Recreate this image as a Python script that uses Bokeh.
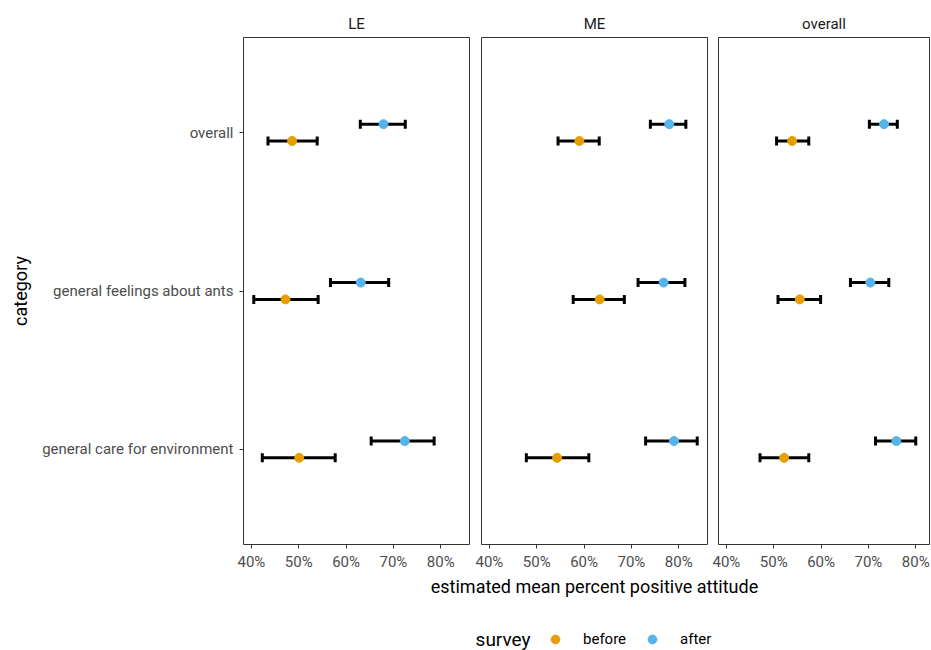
from bokeh.plotting import figure
from bokeh.models import (ColumnDataSource, FactorRange, Range1d, Whisker, TeeHead,
                          FixedTicker, PrintfTickFormatter, Legend, LegendItem, Label)
from bokeh.transform import dodge
from bokeh.layouts import row, column
from bokeh.embed import file_html
from bokeh.resources import INLINE

# ---------------- data ----------------
categories = ["general care for environment", "general feelings about ants", "overall"]
panels = ["LE", "ME", "overall"]
surveys = ["before", "after"]
x_ticks = [40, 50, 60, 70, 80]

# LE
le_before_mean = [50.1, 47.2, 48.6]
le_before_lo = [42.3, 40.5, 43.5]
le_before_hi = [57.7, 54.1, 53.9]
le_after_mean = [72.4, 63.1, 67.9]
le_after_lo = [65.3, 56.7, 63.0]
le_after_hi = [78.6, 69.0, 72.5]
# ME
me_before_mean = [54.3, 63.3, 59.0]
me_before_lo = [47.8, 57.7, 54.5]
me_before_hi = [61.0, 68.5, 63.2]
me_after_mean = [79.0, 76.8, 78.0]
me_after_lo = [73.0, 71.4, 74.0]
me_after_hi = [83.9, 81.3, 81.5]
# overall
ov_before_mean = [52.2, 55.5, 53.9]
ov_before_lo = [47.1, 50.9, 50.6]
ov_before_hi = [57.4, 59.9, 57.4]
ov_after_mean = [75.9, 70.4, 73.3]
ov_after_lo = [71.5, 66.2, 70.2]
ov_after_hi = [80.0, 74.3, 76.1]

panel_data = {
    "LE": {"before": (le_before_mean, le_before_lo, le_before_hi),
           "after": (le_after_mean, le_after_lo, le_after_hi)},
    "ME": {"before": (me_before_mean, me_before_lo, me_before_hi),
           "after": (me_after_mean, me_after_lo, me_after_hi)},
    "overall": {"before": (ov_before_mean, ov_before_lo, ov_before_hi),
                "after": (ov_after_mean, ov_after_lo, ov_after_hi)},
}

# ---------------- style ----------------
COLORS = {"before": "#E69F00", "after": "#56B4E9"}
DODGE = {"before": -0.053, "after": 0.053}
FONT = "Roboto"
TOTAL_W = 931
TOTAL_H = 650
FRAME_W = 226
FRAME_H = 507
TOP = 37
BOTTOM = 26
LEFT1 = 243

all_lo = min(min(v[s][1]) for v in panel_data.values() for s in surveys)
all_hi = max(max(v[s][2]) for v in panel_data.values() for s in surveys)
span = all_hi - all_lo
X0 = all_lo - 0.05 * span
X1 = all_hi + 0.05 * span
px_per_unit = FRAME_W / (X1 - X0)

y_range = FactorRange(factors=categories, range_padding=0.2 / 3, range_padding_units="percent")


def make_panel(name, frame_w, x_end, left, right, first):
    p = figure(y_range=y_range, x_range=Range1d(X0, x_end),
               frame_width=frame_w, frame_height=FRAME_H,
               min_border_left=left, min_border_right=right,
               min_border_top=TOP, min_border_bottom=BOTTOM,
               output_backend="svg", toolbar_location=None, title=name)
    p.background_fill_color = "white"
    p.border_fill_color = "white"
    p.outline_line_color = "#333333"
    p.outline_line_width = 1
    p.xgrid.visible = False
    p.ygrid.visible = False

    p.title.align = "center"
    p.title.text_font = FONT
    p.title.text_font_size = "15px"
    p.title.text_font_style = "normal"
    p.title.text_color = "#1A1A1A"
    p.title.standoff = 10

    ax = p.xaxis[0]
    ax.ticker = FixedTicker(ticks=x_ticks)
    ax.formatter = PrintfTickFormatter(format="%d%%")
    ax.axis_line_color = None
    ax.major_tick_line_color = "#333333"
    ax.major_tick_in = 0
    ax.major_tick_out = 4
    ax.minor_tick_line_color = None
    ax.major_label_text_font = FONT
    ax.major_label_text_font_size = "15px"
    ax.major_label_text_color = "#4D4D4D"
    ax.major_label_standoff = 4

    ay = p.yaxis[0]
    if first:
        ay.axis_line_color = None
        ay.major_tick_line_color = "#333333"
        ay.major_tick_in = 0
        ay.major_tick_out = 4
        ay.major_label_text_font = FONT
        ay.major_label_text_font_size = "15px"
        ay.major_label_text_color = "#4D4D4D"
        ay.major_label_standoff = 6
        ay.axis_label = "category"
        ay.axis_label_text_font = FONT
        ay.axis_label_text_font_size = "18px"
        ay.axis_label_text_font_style = "normal"
        ay.axis_label_text_color = "black"
        ay.axis_label_standoff = 8
    else:
        ay.visible = False

    for s in surveys:
        mean, lo, hi = panel_data[name][s]
        src = ColumnDataSource(dict(cat=categories, mean=mean, lo=lo, hi=hi))
        ybase = dodge("cat", DODGE[s], range=y_range)
        w = Whisker(source=src, base=ybase, lower="lo", upper="hi", dimension="width",
                    line_color="black", line_width=3, level="underlay",
                    lower_head=TeeHead(size=9, line_width=3, line_color="black"),
                    upper_head=TeeHead(size=9, line_width=3, line_color="black"))
        p.add_layout(w)
        p.scatter("mean", ybase, source=src, size=9,
                  fill_color=COLORS[s], line_color=COLORS[s])
    return p


p1 = make_panel(panels[0], FRAME_W, X1, LEFT1, 4, True)
p2 = make_panel(panels[1], FRAME_W, X1, 8, 3, False)
used = (LEFT1 + FRAME_W + 4) + (8 + FRAME_W + 3) + 8
RIGHT3 = 2
w3 = TOTAL_W - used - RIGHT3
p3 = make_panel(panels[2], w3, X0 + w3 / px_per_unit, 8, RIGHT3, False)

# footer: shared x-axis title and legend, centred under the middle panel
row_h = TOP + FRAME_H + BOTTOM
p2_center = LEFT1 + FRAME_W + 4 + 8 + FRAME_W / 2
FOOT_FW = 266
foot_left = int(round(p2_center - FOOT_FW / 2))
foot = figure(width=TOTAL_W, height=TOTAL_H - row_h,
              min_border_left=foot_left, min_border_right=TOTAL_W - foot_left - FOOT_FW,
              min_border_top=10, min_border_bottom=0,
              x_range=Range1d(0, FOOT_FW), y_range=Range1d(0, 1),
              x_axis_location=None, y_axis_location=None,
              output_backend="svg", toolbar_location=None,
              title="estimated mean percent positive attitude")
foot.outline_line_color = None
foot.grid.visible = False
foot.background_fill_color = "white"
foot.border_fill_color = "white"
foot.title.align = "center"
foot.title.text_font = FONT
foot.title.text_font_size = "18px"
foot.title.text_font_style = "normal"
foot.title.text_color = "black"
foot.title.text_line_height = 0.9
foot.title.standoff = 0

# hidden proxy renderers that only supply the legend swatches
leg_r = {s: foot.scatter(x=[0], y=[0], size=9, fill_color=COLORS[s], line_color=COLORS[s],
                         visible=False)
         for s in surveys}
LEG_X = 83
LEG_Y = 3
legend = Legend(items=[LegendItem(label=s, renderers=[leg_r[s]]) for s in surveys],
                orientation="horizontal", location=(LEG_X, LEG_Y))
legend.label_text_font = FONT
legend.label_text_font_size = "15px"
legend.label_text_color = "black"
legend.label_standoff = 17
legend.glyph_width = 22
legend.glyph_height = 22
legend.spacing = 15
legend.border_line_color = None
legend.background_fill_alpha = 0
legend.margin = 0
legend.padding = 0
legend.click_policy = "none"
foot.add_layout(legend)

survey_title = Label(x=LEG_X - 14, y=LEG_Y + 11, y_units="screen", text="survey",
                     text_align="right", text_baseline="middle",
                     text_font=FONT, text_font_size="19px", text_color="black")
foot.add_layout(survey_title)

layout = column(row(p1, p2, p3), foot)

open("out.html", "w").write(file_html(layout, INLINE))
